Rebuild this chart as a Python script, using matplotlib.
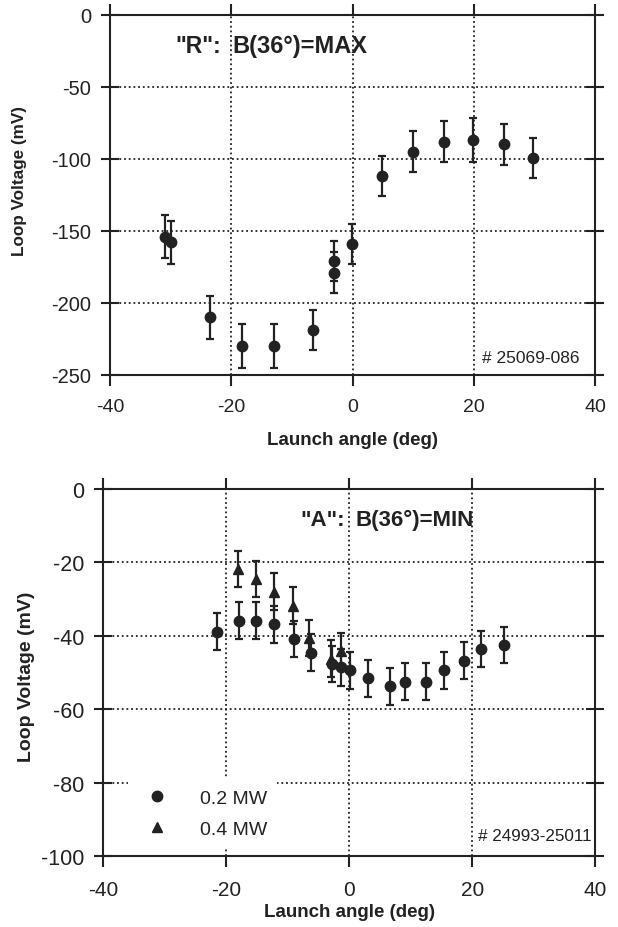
import matplotlib
matplotlib.use('Agg')
import matplotlib.pyplot as plt
from matplotlib.lines import Line2D

plt.rcParams['font.family'] = ['Liberation Sans', 'DejaVu Sans']
plt.rcParams['axes.unicode_minus'] = False

# "R" configuration, B(36 deg) = MAX
r_angle = [-31, -30, -23.5, -18.2, -12.9, -6.5, -3.0, -3.0, -0.1, 4.8, 9.9, 15.1, 19.9, 24.9, 29.7]
r_volt = [-154, -158, -210, -230, -230, -219, -171, -179, -159, -112, -95, -88, -87, -90, -99.5]
r_err = [15, 15, 15, 15, 15, 14, 14, 14, 14, 14, 14, 14, 15, 14, 14]

# "A" configuration, B(36 deg) = MIN
a02_angle = [-21.5, -17.9, -15.1, -12.3, -8.9, -6.2, -2.8, -1.4, 0.1, 3.0, 6.6, 9.0, 12.5, 15.4, 18.6, 21.5, 25.2]
a02_volt = [-38.9, -35.9, -35.9, -36.9, -40.9, -44.6, -47.7, -48.6, -49.4, -51.6, -53.8, -52.5, -52.5, -49.4, -46.8, -43.6, -42.5]
a02_err = [5] * len(a02_angle)

a04_angle = [-18.1, -15.2, -12.3, -9.1, -6.5, -3.0, -1.4]
a04_volt = [-21.8, -24.5, -28.0, -31.8, -40.6, -46.2, -44.2]
a04_err = [5] * len(a04_angle)

ink = '#222222'
dots = (0, (1, 1.6))


def style_axes(ax, yticks, ysize, xsize, lblsize):
    ax.set_xlim(-40, 40)
    ax.set_xticks([-40, -20, 0, 20, 40])
    ax.set_yticks(yticks)
    ax.set_ylim(yticks[0], yticks[-1])
    for s in ax.spines.values():
        s.set_linewidth(1.5)
        s.set_color(ink)
    ax.tick_params(axis='y', direction='inout', length=13, width=1.5, color=ink,
                   labelsize=ysize, labelcolor=ink, right=True, pad=7)
    ax.tick_params(axis='x', direction='out', length=8, width=1.5, color=ink,
                   labelsize=xsize, labelcolor=ink, top=True, pad=9)
    ax.grid(True, color=ink, linestyle=dots, linewidth=1.3)
    ax.set_axisbelow(True)
    ax.set_xlabel('Launch angle (deg)', fontsize=13.5, fontweight='bold', color=ink)
    ax.set_ylabel('Loop Voltage (mV)', fontsize=lblsize, fontweight='bold', color=ink)


def points(ax, x, y, e, marker, ms):
    ax.errorbar(x, y, yerr=e, fmt=marker, color=ink, ms=ms, elinewidth=1.6,
                capsize=3.2, capthick=1.6, zorder=3)


fig = plt.figure(figsize=(6.18, 9.28), dpi=100)

ax1 = fig.add_axes([0.178, 0.595, 0.785, 0.388])
style_axes(ax1, [-250, -200, -150, -100, -50, 0], 14.5, 14, 12.3)
ax1.xaxis.set_label_coords(0.5, -0.155)
ax1.yaxis.set_label_coords(-0.171, 0.54)
points(ax1, r_angle, r_volt, r_err, 'o', 7.5)
ax1.text(-29.2, -21.5, '"R":', fontsize=16.5, fontweight='bold', color=ink, va='center')
ax1.text(-19.8, -21.5, 'B(36°)=MAX', fontsize=17, fontweight='bold', color=ink, va='center')
ax1.text(37.5, -238, '# 25069-086', fontsize=12.5, color=ink, ha='right', va='center')

ax2 = fig.add_axes([0.167, 0.0765, 0.796, 0.3955])
style_axes(ax2, [-100, -80, -60, -40, -20, 0], 15.5, 15, 14)
ax2.xaxis.set_label_coords(0.5, -0.128)
ax2.yaxis.set_label_coords(-0.138, 0.49)
points(ax2, a02_angle, a02_volt, a02_err, 'o', 7.5)
points(ax2, a04_angle, a04_volt, a04_err, '^', 7.5)
ax2.text(-8, -8.2, '"A":', fontsize=16, fontweight='bold', color=ink, va='center')
ax2.text(1.0, -8.2, 'B(36°)=MIN', fontsize=16, fontweight='bold', color=ink, va='center')
ax2.text(21, -94.4, '# 24993-25011', fontsize=12.3, color=ink, ha='left', va='center')

handles = [Line2D([], [], marker='o', ls='none', color=ink, ms=7.5),
           Line2D([], [], marker='^', ls='none', color=ink, ms=7.5)]
leg = ax2.legend(handles, ['0.2 MW', '0.4 MW'], loc='lower left', bbox_to_anchor=(0.03, -0.004),
                 fontsize=14, frameon=True, facecolor='white', edgecolor='none', framealpha=1,
                 handletextpad=1.2, labelspacing=0.7, borderpad=0.5)
for t in leg.get_texts():
    t.set_color(ink)

fig.savefig('out.png', dpi=100)
